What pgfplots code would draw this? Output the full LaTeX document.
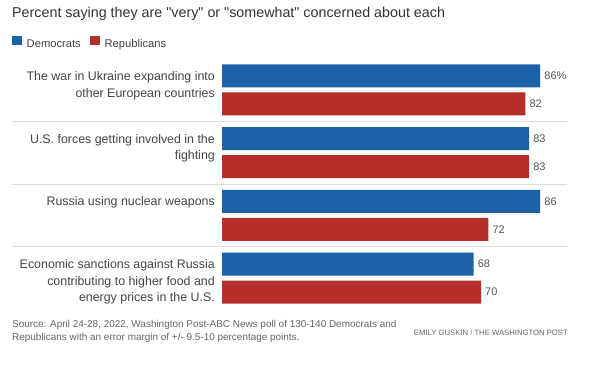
\documentclass[border=0pt]{standalone}
\usepackage{pgfplots}
\pgfplotsset{compat=1.18}
\usepackage{fontspec}
\setmainfont{Liberation Sans}[Ligatures=TeXOff]
\definecolor{dem}{HTML}{1B62A9}
\definecolor{rep}{HTML}{B52F2A}
\definecolor{txt}{HTML}{333333}
\definecolor{lbl}{HTML}{444444}
\definecolor{val}{HTML}{555555}
\definecolor{src}{HTML}{666666}
\definecolor{sep}{HTML}{DDDDDD}
\begin{document}
\begin{tikzpicture}
\useasboundingbox (0,0) rectangle (600bp,381bp);
\fill[white] (0,0) rectangle (600bp,381bp);
\node[anchor=base west, inner sep=0pt, text=txt, font=\fontsize{14.3bp}{16bp}\selectfont] at (12bp,363bp) {Percent saying they are "very" or "somewhat" concerned about each};
\draw[sep, line width=0.8bp] (12bp,259.3bp) -- (567bp,259.3bp);
\draw[sep, line width=0.8bp] (12bp,196.8bp) -- (567bp,196.8bp);
\draw[sep, line width=0.8bp] (12bp,134.3bp) -- (567bp,134.3bp);
\begin{axis}[
  at={(222bp,326bp)}, anchor=north west,
  scale only axis, width=370bp, height=255bp,
  xmin=0, xmax=100, ymin=55, ymax=310, y dir=reverse,
  axis line style={draw=none}, major tick length=0pt,
  xtick=\empty,
  ytick={76,138.7,201.4,264.1},
  yticklabels={{The war in Ukraine expanding into\\other European countries},{U.S. forces getting involved in the\\fighting},{Russia using nuclear weapons},{Economic sanctions against Russia\\contributing to higher food and\\energy prices in the U.S.}},
  yticklabel style={align=right, anchor=north east, inner sep=0pt, xshift=-7bp, yshift=4.6bp, font=\fontsize{12.4bp}{16.5bp}\selectfont, text=lbl},
  clip=false,
  legend columns=-1,
  legend style={at={(-0.5676,1.050)}, anchor=west, draw=none, fill=none, inner sep=0pt, outer sep=0pt, font=\fontsize{11.2bp}{13bp}\selectfont, nodes={inner sep=0pt, text=lbl}, /tikz/every odd column/.style={column sep=4.7bp}, /tikz/every even column/.style={column sep=9bp}},
  nodes near coords, point meta=explicit symbolic,
  every node near coord/.append style={font=\fontsize{11bp}{13bp}\selectfont, text=val, inner sep=0pt, xshift=4bp, anchor=west},
]
\addplot[xbar, bar width=23bp, bar shift=0pt, fill=dem, draw=none, legend image code/.code={\fill[dem] (0bp,-1.3bp) rectangle (10bp,8.2bp);}] coordinates {(86,76) [86\%] (83,138.7) [83] (86,201.4) [86] (68,264.1) [68]};
\addlegendentry{Democrats}
\addplot[xbar, bar width=23bp, bar shift=0pt, fill=rep, draw=none, legend image code/.code={\fill[rep] (0bp,-1.3bp) rectangle (10bp,8.2bp);}] coordinates {(82,104) [82] (83,166.7) [83] (72,229.4) [72] (70,292.1) [70]};
\addlegendentry{Republicans}
\end{axis}
\node[anchor=base west, inner sep=0pt, text=src, font=\fontsize{9.95bp}{13bp}\selectfont] at (12bp,53bp) {Source: April 24-28, 2022, Washington Post-ABC News poll of 130-140 Democrats and};
\node[anchor=base west, inner sep=0pt, text=src, font=\fontsize{9.95bp}{13bp}\selectfont] at (12bp,40bp) {Republicans with an error margin of +/- 9.5-10 percentage points.};
\node[anchor=base east, inner sep=0pt, text=src, font=\fontsize{7.7bp}{9bp}\selectfont] at (568bp,45bp) {EMILY GUSKIN / THE WASHINGTON POST};
\end{tikzpicture}
\end{document}
